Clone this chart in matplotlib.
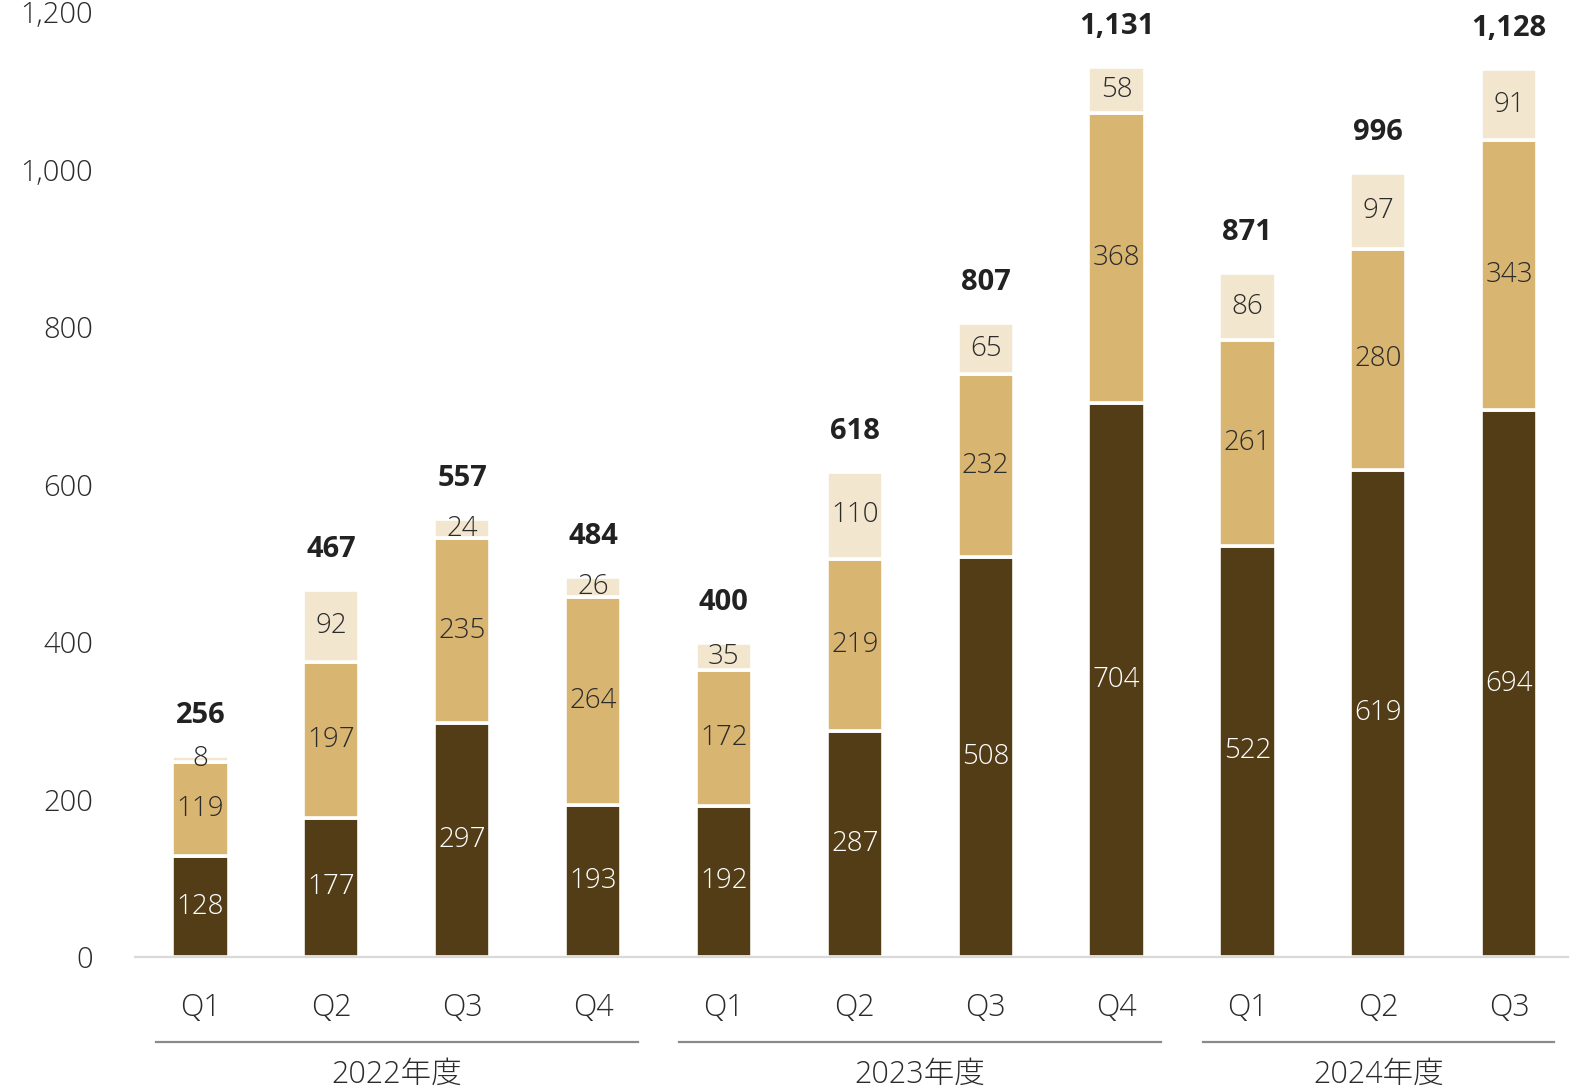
import matplotlib
matplotlib.use("Agg")
import matplotlib.pyplot as plt
from matplotlib.transforms import blended_transform_factory

plt.rcParams['font.family'] = ['Open Sans', 'Noto Sans CJK JP', 'DejaVu Sans']

quarters = ['Q1', 'Q2', 'Q3', 'Q4', 'Q1', 'Q2', 'Q3', 'Q4', 'Q1', 'Q2', 'Q3']
bottom_seg = [128, 177, 297, 193, 192, 287, 508, 704, 522, 619, 694]
middle_seg = [119, 197, 235, 264, 172, 219, 232, 368, 261, 280, 343]
top_seg = [8, 92, 24, 26, 35, 110, 65, 58, 86, 97, 91]
totals = [256, 467, 557, 484, 400, 618, 807, 1131, 871, 996, 1128]
years = ['2022年度', '2023年度', '2024年度']
year_ranges = [(0, 3), (4, 7), (8, 10)]

dark = '#533D17'
tan = '#D9B572'
cream = '#F2E6CE'
text_col = '#2B2B2B'

fig = plt.figure(figsize=(15.76, 10.89), dpi=100)
ax = fig.add_axes([135 / 1576, 132 / 1089, 1433 / 1576, 945 / 1089])

x = list(range(len(quarters)))
w = 0.43
lw = 2.6
b1 = ax.bar(x, bottom_seg, w, color=dark, edgecolor='white', linewidth=lw)
base2 = bottom_seg
b2 = ax.bar(x, middle_seg, w, bottom=base2, color=tan, edgecolor='white', linewidth=lw)
base3 = [a + b for a, b in zip(bottom_seg, middle_seg)]
b3 = ax.bar(x, top_seg, w, bottom=base3, color=cream, edgecolor='white', linewidth=lw)

ax.bar_label(b1, labels=[str(v) for v in bottom_seg], label_type='center',
             color='white', fontsize=20, fontweight='light')
ax.bar_label(b2, labels=[str(v) for v in middle_seg], label_type='center',
             color=text_col, fontsize=20, fontweight='light')
ax.bar_label(b3, labels=[str(v) for v in top_seg], label_type='center',
             color=text_col, fontsize=20, fontweight='light')

# totals sit above each stack
for xi, top, tot in zip(x, [a + b for a, b in zip(base3, top_seg)], totals):
    ax.annotate(f'{tot:,}', (xi, top), xytext=(0, 29), textcoords='offset points',
                ha='center', va='center', fontsize=21, fontweight='bold',
                color='#222222', annotation_clip=False)

ax.set_xlim(-0.5, 10.45)
ax.set_ylim(0, 1200)
ax.set_yticks(range(0, 1201, 200))
ax.set_yticklabels([f'{v:,}' for v in range(0, 1201, 200)])
ax.set_xticks(x)
ax.set_xticklabels(quarters)
ax.tick_params(axis='y', length=0, pad=30, labelsize=21, labelcolor=text_col)
ax.tick_params(axis='x', length=0, pad=25, labelsize=22, labelcolor=text_col)
for lab in ax.get_xticklabels() + ax.get_yticklabels():
    lab.set_fontweight('light')

for side in ['top', 'right', 'left']:
    ax.spines[side].set_visible(False)
ax.spines['bottom'].set_color('#D9D9D9')
ax.spines['bottom'].set_linewidth(1.6)

# fiscal year brackets under the quarter labels
tr = blended_transform_factory(ax.transData, ax.transAxes)
for name, (s, e) in zip(years, year_ranges):
    x0, x1 = s - 0.34, e + 0.34
    ax.plot([x0, x1], [-85 / 945, -85 / 945], transform=tr, color='#8A8A8A',
            linewidth=1.6, clip_on=False)
    ax.text((x0 + x1) / 2, -118 / 945, name, transform=tr, ha='center', va='center',
            fontsize=22, fontweight='light', color=text_col)

fig.savefig('out.png', dpi=100)
